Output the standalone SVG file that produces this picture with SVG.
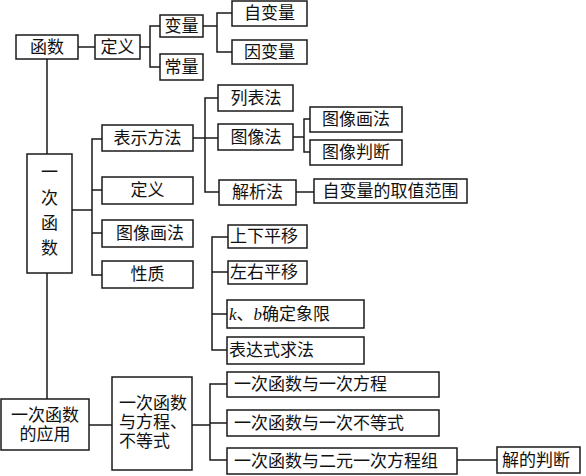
<svg xmlns="http://www.w3.org/2000/svg" width="586" height="476" viewBox="0 0 586 476">
<style>
rect{fill:#fff;stroke:#1a1a1a;stroke-width:1.5}
text{font-family:"Liberation Serif","Noto Sans CJK SC",serif;font-size:17px;fill:#111;dominant-baseline:central}
.c{text-anchor:middle}
.l{text-anchor:start}
#connectors path{fill:none;stroke:#1a1a1a;stroke-width:1.5}
</style>
<rect x="0" y="0" width="586" height="476" style="stroke:none;fill:#fff"/>
<g id="connectors">
<path d="M78 47H95"/>
<path d="M140 47H150M160 26H150V67H160"/>
<path d="M203 26H217M232 13H217V52H232"/>
<path d="M47 59V154"/>
<path d="M72 210H92M102 139H92V275H102M92 190H102M92 233H102"/>
<path d="M193 138H218M218 98H205V192H219"/>
<path d="M293 137H304M310 119H304V152H310"/>
<path d="M296 192H314"/>
<path d="M228 237H212V350H227M212 272H228M212 314H227"/>
<path d="M47 273V399"/>
<path d="M89 425H112"/>
<path d="M192 425H210M227 384H210V460H227M210 423H227"/>
<path d="M457 460H497"/>
</g>
<g id="n1"><rect x="16" y="35" width="62" height="24"/><text class="c" x="47" y="47">函数</text></g>
<g id="n2"><rect x="95" y="35" width="45" height="24"/><text class="c" x="117.5" y="47">定义</text></g>
<g id="n3"><rect x="160" y="15" width="43" height="22"/><text class="c" x="181.5" y="26">变量</text></g>
<g id="n4"><rect x="160" y="54" width="43" height="26"/><text class="c" x="181.5" y="67">常量</text></g>
<g id="n5"><rect x="232" y="1" width="75" height="25"/><text class="c" x="269.5" y="13.5">自变量</text></g>
<g id="n6"><rect x="232" y="40" width="75" height="24"/><text class="c" x="269.5" y="52">因变量</text></g>
<g id="n7"><rect x="27" y="154" width="45" height="119"/>
<text class="c" x="49.5" y="172">一</text><text class="c" x="49.5" y="198">次</text><text class="c" x="49.5" y="223">函</text><text class="c" x="49.5" y="248">数</text></g>
<g id="n8"><rect x="102" y="125" width="91" height="26"/><text class="c" x="147.5" y="138">表示方法</text></g>
<g id="n9"><rect x="102" y="177" width="91" height="27"/><text class="c" x="147.5" y="190.5">定义</text></g>
<g id="n10"><rect x="102" y="220" width="91" height="27"/><text class="c" x="150" y="233.5">图像画法</text></g>
<g id="n11"><rect x="102" y="261" width="91" height="27"/><text class="c" x="147.5" y="274.5">性质</text></g>
<g id="n12"><rect x="218" y="85" width="75" height="26"/><text class="c" x="256" y="98">列表法</text></g>
<g id="n13"><rect x="218" y="124" width="75" height="26"/><text class="c" x="256" y="137">图像法</text></g>
<g id="n14"><rect x="219" y="180" width="77" height="25"/><text class="c" x="257.5" y="192.5">解析法</text></g>
<g id="n15"><rect x="310" y="107" width="92" height="25"/><text class="c" x="356" y="119.5">图像画法</text></g>
<g id="n16"><rect x="310" y="140" width="92" height="25"/><text class="c" x="356" y="152.5">图像判断</text></g>
<g id="n17"><rect x="314" y="179" width="153" height="24"/><text class="c" x="390.5" y="191">自变量的取值范围</text></g>
<g id="n18"><rect x="228" y="225" width="79" height="23"/><text class="l" x="230" y="236.5">上下平移</text></g>
<g id="n19"><rect x="228" y="261" width="79" height="23"/><text class="l" x="230" y="272.5">左右平移</text></g>
<g id="n20"><rect x="227" y="300" width="137" height="28"/><text class="l" x="229" y="314"><tspan font-style="italic">k</tspan>、<tspan font-style="italic">b</tspan>确定象限</text></g>
<g id="n21"><rect x="227" y="337" width="137" height="27"/><text class="l" x="229" y="350.5">表达式求法</text></g>
<g id="n22"><rect x="1" y="399" width="88" height="51"/><text class="c" x="45" y="415">一次函数</text><text class="c" x="45" y="434">的应用</text></g>
<g id="n23"><rect x="112" y="377" width="80" height="93"/><text class="l" x="119" y="403">一次函数</text><text class="l" x="119" y="422">与方程、</text><text class="l" x="119" y="441">不等式</text></g>
<g id="n24"><rect x="227" y="372" width="212" height="25"/><text class="l" x="234" y="384.5">一次函数与一次方程</text></g>
<g id="n25"><rect x="227" y="410" width="212" height="26"/><text class="l" x="234" y="423">一次函数与一次不等式</text></g>
<g id="n26"><rect x="227" y="448" width="230" height="26"/><text class="l" x="234" y="461">一次函数与二元一次方程组</text></g>
<g id="n27"><rect x="497" y="447" width="83" height="26"/><text class="l" x="502" y="460">解的判断</text></g>
</svg>
